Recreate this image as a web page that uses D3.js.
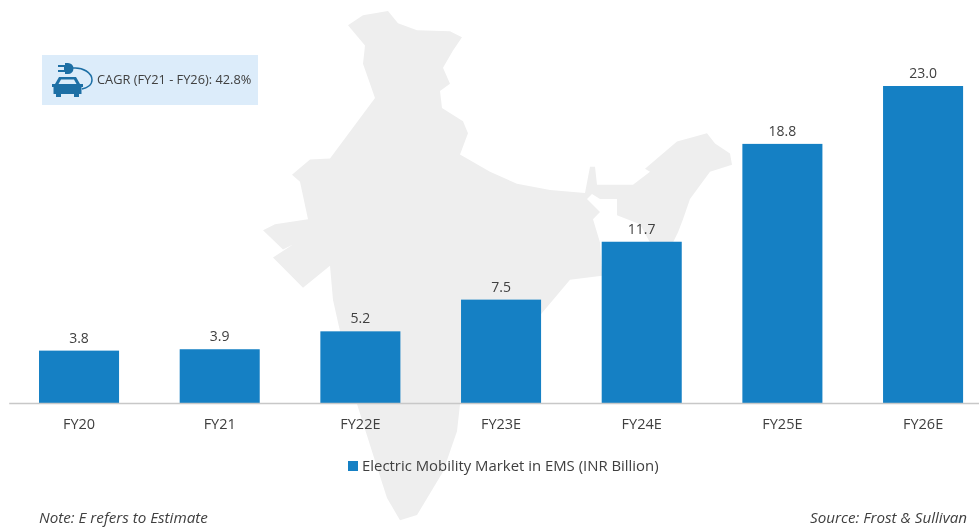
<!DOCTYPE html>
<html>
<head>
<meta charset="utf-8">
<script src="https://cdnjs.cloudflare.com/ajax/libs/d3/7.8.5/d3.min.js"></script>
<style>
  html, body { margin: 0; padding: 0; background: #fff; overflow: hidden; }
  text { font-family: "Open Sans", sans-serif; fill: #404040; }
  svg { filter: blur(0.45px); }
</style>
</head>
<body>
<div id="chart"></div>
<script>
const categories = ["FY20", "FY21", "FY22E", "FY23E", "FY24E", "FY25E", "FY26E"];
const values = [3.8, 3.9, 5.2, 7.5, 11.7, 18.8, 23.0];
const seriesName = "Electric Mobility Market in EMS (INR Billion)";
const cagrLabel = "CAGR (FY21 - FY26): 42.8%";
const noteLabel = "Note: E refers to Estimate";
const sourceLabel = "Source: Frost & Sullivan";

// outline of the background map
const mapOutline = [
  [348,25],[363,15],[388,11],[398,23],[417,30],[450,31],[462,37],[453,50],[443,67],[450,83],
  [440,90],[442,107],[463,120],[468,132],[460,153],[490,170],[517,182],[550,188],[585,191],
  [590,165],[595,165],[597,183],[633,183],[650,170],[645,167],[677,140],[707,132],[715,142],
  [730,152],[732,163],[710,170],[690,197],[683,217],[678,230],[672,242],[660,252],[650,240],
  [640,222],[617,213],[617,197],[600,197],[592,192],[587,197],[600,210],[593,217],[600,240],
  [602,273],[570,277],[542,310],[520,335],[480,365],[460,400],[457,427],[443,467],[417,510],
  [400,515],[387,493],[373,450],[357,400],[345,350],[333,297],[330,263],[303,285],[273,255],
  [293,242],[283,247],[263,228],[275,222],[308,217],[300,180],[292,173],[310,158],[330,157],
  [375,97],[363,63],[365,45]
];

const margin = { top: 86, bottom: 125 };
const width = 979;
const height = 528;

const svg = d3.select("#chart").append("svg")
  .attr("width", width)
  .attr("height", height)
  .style("display", "block");

svg.append("path")
  .attr("d", d3.line()(mapOutline) + "Z")
  .attr("transform", "scale(1,1.01)")
  .attr("fill", "#eeeeee");

const x = d3.scaleBand()
  .domain(categories)
  .range([8.7, 993.4])
  .paddingInner(0.431)
  .paddingOuter(0.2155);

const y = d3.scaleLinear()
  .domain([0, 23])
  .range([height - margin.bottom, margin.top]);

// bars
svg.selectAll(".bar")
  .data(values)
  .enter()
  .append("rect")
  .attr("class", "bar")
  .attr("x", (d, i) => x(categories[i]))
  .attr("y", d => y(d))
  .attr("width", x.bandwidth())
  .attr("height", d => y(0) - y(d))
  .attr("fill", "#1580c4");

// value labels
svg.selectAll(".value")
  .data(values)
  .enter()
  .append("text")
  .attr("class", "value")
  .attr("x", (d, i) => x(categories[i]) + x.bandwidth() / 2)
  .attr("y", d => y(d) - 8)
  .attr("text-anchor", "middle")
  .attr("font-size", 14)
  .text(d => d.toFixed(1));

// x axis
const axis = svg.append("g")
  .attr("transform", `translate(0,${y(0)})`)
  .call(d3.axisBottom(x).tickSize(0).tickPadding(16));
axis.select(".domain").attr("stroke", "#c8c8c8").attr("stroke-width", 1.5);
axis.selectAll("text").attr("font-size", 14.5).style("font-family", '"Open Sans", sans-serif');

// legend
svg.append("rect")
  .attr("x", 348).attr("y", 461)
  .attr("width", 10).attr("height", 10)
  .attr("fill", "#1580c4");
svg.append("text")
  .attr("x", 362).attr("y", 471)
  .attr("font-size", 14.9)
  .text(seriesName);

// notes
svg.append("text")
  .attr("x", 39).attr("y", 523)
  .attr("font-size", 15.2)
  .attr("font-style", "italic")
  .text(noteLabel);
svg.append("text")
  .attr("x", 967).attr("y", 523)
  .attr("text-anchor", "end")
  .attr("font-size", 15.2)
  .attr("font-style", "italic")
  .text(sourceLabel);

// CAGR box with the plug and car icon
const box = svg.append("g");
box.append("rect")
  .attr("x", 42).attr("y", 55)
  .attr("width", 216).attr("height", 50)
  .attr("fill", "#dcecfa");
const iconColor = "#1d6fa5";
box.append("path") // plug
  .attr("d", "M58 65H65V63H68A5.5 5.5 0 0 1 68 74H65V72H58V70H64V67H58Z")
  .attr("fill", iconColor);
box.append("path") // cable
  .attr("d", "M73 68C83 67 92 73 92 80C92 85 87 88 82 89")
  .attr("fill", "none")
  .attr("stroke", iconColor)
  .attr("stroke-width", 1.5);
box.append("path") // car
  .attr("d", "M59 77H76L80 84H83V87H81.5V94H79V97H74V94H61V97H56V94H53.5V87H52V84H55Z")
  .attr("fill", iconColor);
box.append("path") // windscreen
  .attr("d", "M61 79.5H74L76.5 84H58.5Z")
  .attr("fill", "#dcecfa");
box.append("text")
  .attr("x", 97).attr("y", 84)
  .attr("font-size", 12.8)
  .text(cagrLabel);
</script>
</body>
</html>
